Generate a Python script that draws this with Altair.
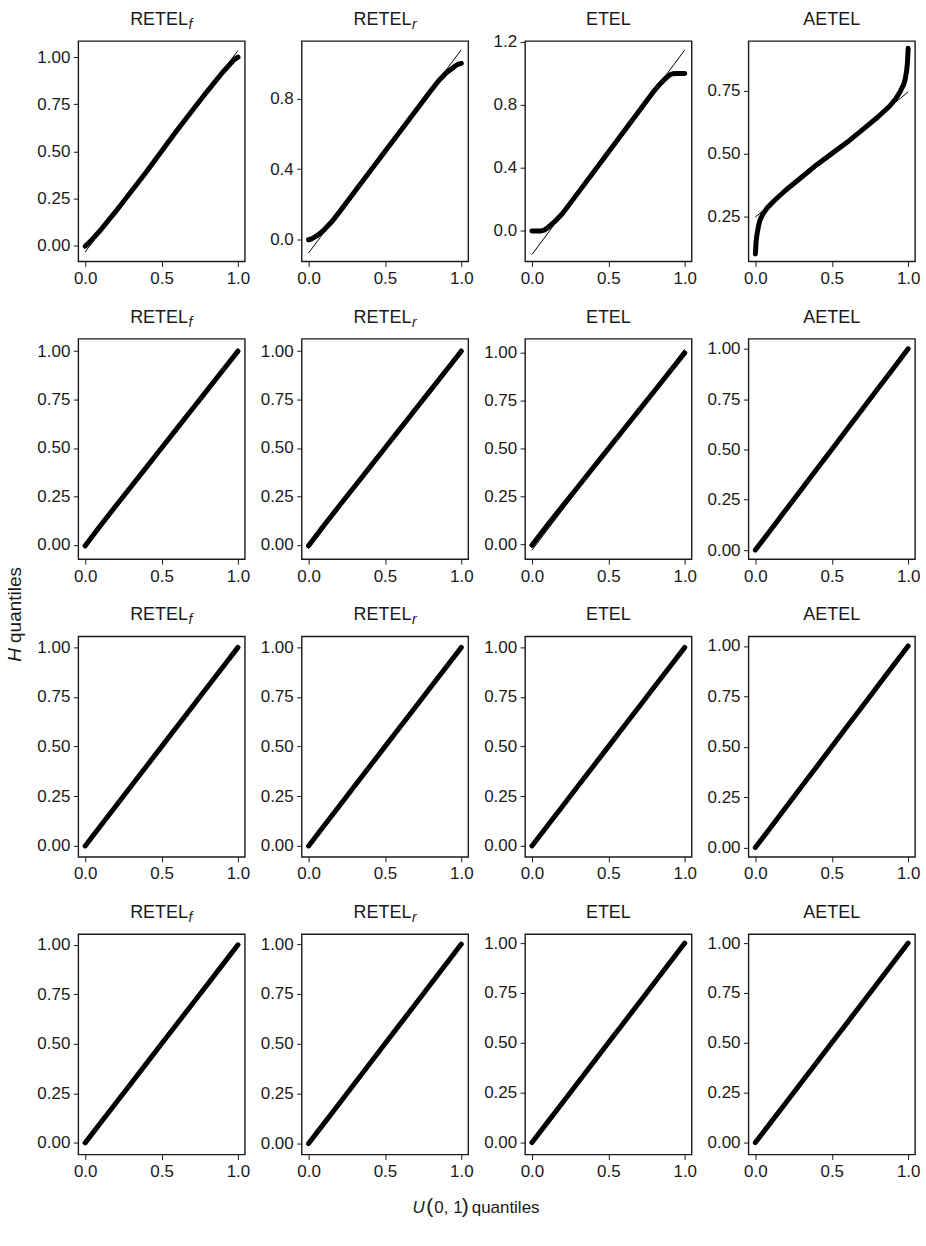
import altair as alt
import pandas as pd

FONT = "Liberation Sans"
INK = "#1a1a1a"

# Panel headings: method name plus an italic subscript (if any)
methods = ["RETEL", "RETEL", "ETEL", "AETEL"]
subscripts = ["f", "r", "", ""]

# ---- Row 1 sample quantiles (H) against U(0,1) quantiles ----
u_r1c1 = [0.0, 0.02, 0.05, 0.1, 0.2, 0.3, 0.4, 0.5, 0.6, 0.7, 0.8, 0.9, 0.95, 0.98, 1.0]
h_r1c1 = [-0.005, 0.01, 0.035, 0.08, 0.18, 0.285, 0.39, 0.5, 0.61, 0.715, 0.82, 0.92, 0.965, 0.99, 1.0]

u_r1c2 = [0.0, 0.02, 0.05, 0.08, 0.1, 0.15, 0.2, 0.3, 0.4, 0.5, 0.6, 0.7, 0.8, 0.85, 0.9, 0.93, 0.96, 0.98, 1.0]
h_r1c2 = [0.0, 0.005, 0.02, 0.04, 0.055, 0.1, 0.155, 0.27, 0.385, 0.5, 0.615, 0.73, 0.845, 0.9, 0.945, 0.965, 0.985, 0.995, 1.0]

u_r1c3 = [0.0, 0.03, 0.06, 0.08, 0.1, 0.12, 0.15, 0.2, 0.3, 0.4, 0.5, 0.6, 0.7, 0.8, 0.84, 0.87, 0.9, 0.92, 0.95, 1.0]
h_r1c3 = [0.0, 0.0, 0.0, 0.005, 0.018, 0.035, 0.06, 0.11, 0.24, 0.37, 0.5, 0.63, 0.76, 0.89, 0.935, 0.965, 0.99, 0.998, 1.0, 1.0]

u_r1c4 = [0.0, 0.005, 0.01, 0.02, 0.03, 0.05, 0.08, 0.12, 0.2, 0.3, 0.4, 0.5, 0.6, 0.7, 0.8, 0.88, 0.92, 0.95, 0.97, 0.98, 0.99, 0.995, 1.0]
h_r1c4 = [0.10, 0.15, 0.175, 0.21, 0.235, 0.26, 0.285, 0.31, 0.355, 0.405, 0.455, 0.5, 0.545, 0.595, 0.645, 0.69, 0.72, 0.75, 0.775, 0.795, 0.83, 0.86, 0.92]

# ---- Rows 2-4: near-uniform behaviour ----
u_grid = [0.0, 0.1, 0.2, 0.3, 0.4, 0.5, 0.6, 0.7, 0.8, 0.9, 1.0]
h_r2c1 = [-0.005, 0.1, 0.2, 0.3, 0.4, 0.5, 0.6, 0.7, 0.8, 0.9, 1.0]
h_r2c2 = [-0.005, 0.1, 0.2, 0.3, 0.4, 0.5, 0.6, 0.7, 0.8, 0.9, 1.0]
h_r2c3 = [-0.005, 0.1, 0.2, 0.3, 0.4, 0.5, 0.6, 0.7, 0.8, 0.9, 1.0]
h_r2c4 = [0.0, 0.1, 0.2, 0.3, 0.4, 0.5, 0.6, 0.7, 0.8, 0.9, 1.0]
h_r3c1 = [0.0, 0.1, 0.2, 0.3, 0.4, 0.5, 0.6, 0.7, 0.8, 0.9, 1.0]
h_r3c2 = [0.0, 0.1, 0.2, 0.3, 0.4, 0.5, 0.6, 0.7, 0.8, 0.9, 1.0]
h_r3c3 = [0.0, 0.1, 0.2, 0.3, 0.4, 0.5, 0.6, 0.7, 0.8, 0.9, 1.0]
h_r3c4 = [0.0, 0.1, 0.2, 0.3, 0.4, 0.5, 0.6, 0.7, 0.8, 0.9, 1.0]
h_r4c1 = [0.0, 0.1, 0.2, 0.3, 0.4, 0.5, 0.6, 0.7, 0.8, 0.9, 1.0]
h_r4c2 = [0.0, 0.1, 0.2, 0.3, 0.4, 0.5, 0.6, 0.7, 0.8, 0.9, 1.0]
h_r4c3 = [0.0, 0.1, 0.2, 0.3, 0.4, 0.5, 0.6, 0.7, 0.8, 0.9, 1.0]
h_r4c4 = [0.0, 0.1, 0.2, 0.3, 0.4, 0.5, 0.6, 0.7, 0.8, 0.9, 1.0]

curves = [
    [(u_r1c1, h_r1c1), (u_r1c2, h_r1c2), (u_r1c3, h_r1c3), (u_r1c4, h_r1c4)],
    [(u_grid, h_r2c1), (u_grid, h_r2c2), (u_grid, h_r2c3), (u_grid, h_r2c4)],
    [(u_grid, h_r3c1), (u_grid, h_r3c2), (u_grid, h_r3c3), (u_grid, h_r3c4)],
    [(u_grid, h_r4c1), (u_grid, h_r4c2), (u_grid, h_r4c3), (u_grid, h_r4c4)],
]

# Reference (QQ) line: value at u = 0 and u = 1
ref_lo = [[-0.035, -0.075, -0.15, 0.247],
          [-0.02, -0.02, -0.03, 0.0],
          [-0.01, -0.01, -0.01, 0.0],
          [-0.01, -0.01, -0.005, 0.0]]
ref_hi = [[1.035, 1.077, 1.149, 0.746],
          [1.015, 1.015, 1.02, 1.0],
          [1.01, 1.01, 1.01, 1.0],
          [1.005, 1.01, 1.005, 1.0]]

# Axis settings
x_domain = [-0.045, 1.045]
x_ticks = [0.0, 0.5, 1.0]
y_domains = [
    [[-0.086, 1.086], [-0.123, 1.126], [-0.194, 1.206], [0.07, 0.949]],
    [[-0.074, 1.064], [-0.074, 1.064], [-0.077, 1.074], [-0.045, 1.05]],
    [[-0.055, 1.055], [-0.055, 1.055], [-0.055, 1.055], [-0.046, 1.047]],
    [[-0.059, 1.054], [-0.055, 1.05], [-0.06, 1.045], [-0.06, 1.045]],
]
ticks_quarter = [0.0, 0.25, 0.5, 0.75, 1.0]
y_ticks = [
    [ticks_quarter, [0.0, 0.4, 0.8], [0.0, 0.4, 0.8, 1.2], [0.25, 0.5, 0.75]],
    [ticks_quarter] * 4,
    [ticks_quarter] * 4,
    [ticks_quarter] * 4,
]
y_formats = [
    [".2f", ".1f", ".1f", ".2f"],
    [".2f"] * 4,
    [".2f"] * 4,
    [".2f"] * 4,
]

W, H = 167, 221
TITLE_Y = -16
TITLE_SHIFT = -2.5

# Axis title pieces (text, style, offset)
ylab_parts = [("H", "italic", 0.0), ("quantiles", "normal", 19.0)]
xlab_parts = [("U", "italic", 17, 0.0), ("(", "normal", 21, 14.0), ("0, 1", "normal", 17, 22.0),
              (")", "normal", 21, 49.5), ("quantiles", "normal", 17, 59.5)]


def text_layer(text, x, y, size, style="normal", align="center", baseline="alphabetic", angle=0):
    return alt.Chart(pd.DataFrame({"t": [text]})).mark_text(
        font=FONT, fontSize=size, fontStyle=style, color=INK,
        align=align, baseline=baseline, angle=angle,
    ).encode(text="t:N", x=alt.value(x), y=alt.value(y))


def panel(r, c):
    u, h = curves[r][c]
    curve_df = pd.DataFrame({"u": u, "h": h})
    ref_df = pd.DataFrame({"u": [0.0, 1.0], "h": [ref_lo[r][c], ref_hi[r][c]]})

    x_enc = alt.X("u:Q", scale=alt.Scale(domain=x_domain, nice=False, zero=False),
                  axis=alt.Axis(values=x_ticks, format=".1f", title=None, labelFlush=False))
    y_enc = alt.Y("h:Q", scale=alt.Scale(domain=y_domains[r][c], nice=False, zero=False),
                  axis=alt.Axis(values=y_ticks[r][c], format=y_formats[r][c], title=None))

    curve = alt.Chart(curve_df).mark_line(
        color="black", strokeWidth=5, strokeCap="round", strokeJoin="round"
    ).encode(x=x_enc, y=y_enc, order="u:Q")
    ref = alt.Chart(ref_df).mark_line(color="black", strokeWidth=1).encode(x=x_enc, y=y_enc)

    layers = [curve, ref]
    if subscripts[c]:
        layers.append(text_layer(methods[c], W / 2 + TITLE_SHIFT, TITLE_Y, 18))
        layers.append(text_layer(subscripts[c], W / 2 + TITLE_SHIFT + 29.5, TITLE_Y + 4, 14,
                                 style="italic", align="left"))
    else:
        layers.append(text_layer(methods[c], W / 2, TITLE_Y, 18))

    # shared axis titles, attached to the panels they sit next to
    if r == 1 and c == 0:
        y0 = 324.0
        for text, style, off in ylab_parts:
            layers.append(text_layer(text, -63.5, y0 - off, 19, style=style, align="left",
                                     baseline="middle", angle=270))
    if r == 3 and c == 1:
        for text, style, size, off in xlab_parts:
            layers.append(text_layer(text, 111 + off, 280, size, style=style, align="left"))

    return alt.layer(*layers).properties(width=W, height=H)


panels = [panel(r, c) for r in range(4) for c in range(4)]

chart = alt.concat(
    *panels, columns=4, spacing={"row": 77.5, "column": 57}, bounds="flush"
).properties(
    padding={"left": 4.5, "top": 8.5, "right": 5, "bottom": 5},
    background="white",
).configure_view(
    stroke=INK, strokeWidth=1.4
).configure_axis(
    domain=False, grid=False,
    labelFont=FONT, labelFontSize=17, labelColor=INK,
    tickColor=INK, tickSize=5, tickWidth=1, labelPadding=3.5,
).configure_axisX(labelPadding=4)

chart.save("out.html", embed_options={"renderer": "svg", "actions": False})
